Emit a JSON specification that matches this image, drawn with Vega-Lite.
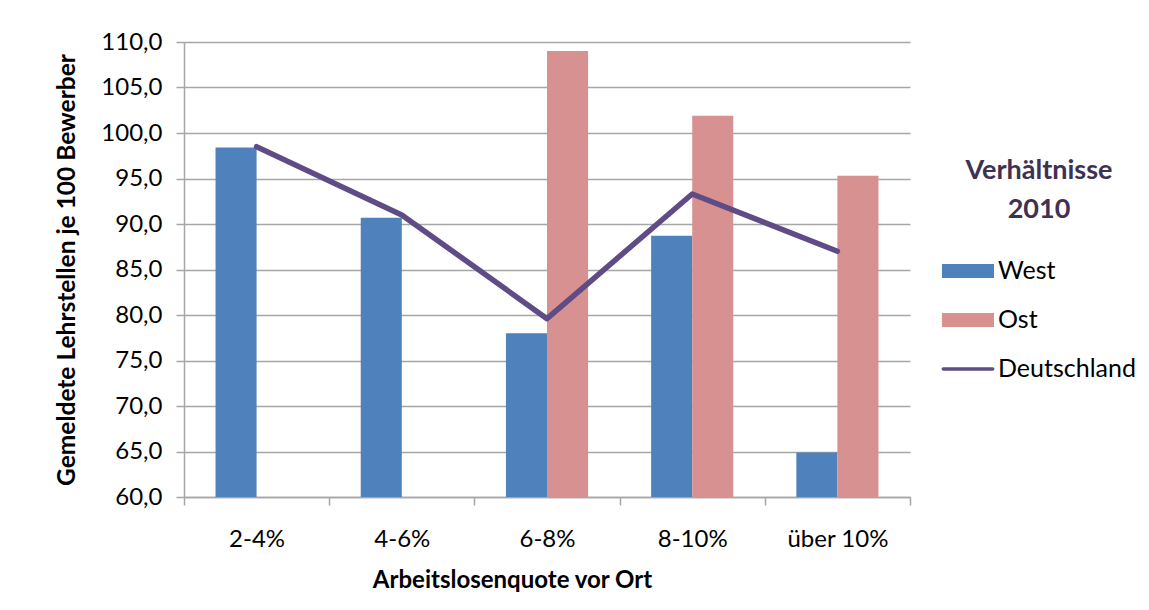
{
  "$schema": "https://vega.github.io/schema/vega-lite/v6.json",
  "width": 726,
  "height": 455,
  "autosize": {"type": "none"},
  "padding": {"left": 184, "top": 42, "right": 239, "bottom": 113},
  "background": "white",
  "config": {
    "locale": {"number": {"decimal": ",", "thousands": ".", "grouping": [3], "currency": ["", " €"]}},
    "font": "Lato",
    "view": {"stroke": null}
  },
  "data": {
    "values": [
      {"kat": "2-4%", "serie": "West", "wert": 98.4},
      {"kat": "4-6%", "serie": "West", "wert": 90.7},
      {"kat": "6-8%", "serie": "West", "wert": 78.0},
      {"kat": "8-10%", "serie": "West", "wert": 88.7},
      {"kat": "über 10%", "serie": "West", "wert": 64.9},
      {"kat": "6-8%", "serie": "Ost", "wert": 109.0},
      {"kat": "8-10%", "serie": "Ost", "wert": 101.9},
      {"kat": "über 10%", "serie": "Ost", "wert": 95.3},
      {"kat": "2-4%", "serie": "Deutschland", "wert": 98.5},
      {"kat": "4-6%", "serie": "Deutschland", "wert": 91.0},
      {"kat": "6-8%", "serie": "Deutschland", "wert": 79.6},
      {"kat": "8-10%", "serie": "Deutschland", "wert": 93.3},
      {"kat": "über 10%", "serie": "Deutschland", "wert": 87.0}
    ]
  },
  "encoding": {
    "x": {
      "field": "kat",
      "type": "nominal",
      "sort": ["2-4%", "4-6%", "6-8%", "8-10%", "über 10%"],
      "scale": {"paddingInner": 0, "paddingOuter": 0},
      "axis": {
        "title": "Arbeitslosenquote vor Ort",
        "labelAngle": 0,
        "tickBand": "extent",
        "tickSize": 8,
        "tickColor": "#A6A6A6",
        "tickWidth": 1.5,
        "domainColor": "#A6A6A6",
        "domainWidth": 1.5,
        "labelFontSize": 24,
        "labelColor": "black",
        "labelPadding": 22,
        "titleFontSize": 24,
        "titleFontWeight": "bold",
        "titleColor": "black",
        "titlePadding": 17,
        "titleX": 328
      }
    },
    "y": {
      "field": "wert",
      "type": "quantitative",
      "scale": {"domain": [60, 110], "zero": false, "nice": false},
      "axis": {
        "values": [60, 65, 70, 75, 80, 85, 90, 95, 100, 105, 110],
        "format": ".1f",
        "grid": true,
        "gridColor": "#A6A6A6",
        "gridWidth": 1.5,
        "domainColor": "#A6A6A6",
        "domainWidth": 1.5,
        "tickColor": "#A6A6A6",
        "tickSize": 8,
        "tickWidth": 1.5,
        "labelFontSize": 24,
        "labelColor": "black",
        "labelPadding": 14,
        "title": "Gemeldete Lehrstellen je 100 Bewerber",
        "titleFontSize": 24.5,
        "titleFontWeight": "bold",
        "titleColor": "black",
        "titlePadding": 21
      }
    }
  },
  "layer": [
    {
      "transform": [{"filter": "datum.serie !== 'Deutschland'"}],
      "mark": {"type": "bar", "clip": true},
      "encoding": {
        "xOffset": {
          "field": "serie",
          "type": "nominal",
          "scale": {"domain": ["West", "Ost"], "paddingInner": 0, "paddingOuter": 0.768}
        },
        "color": {
          "field": "serie",
          "type": "nominal",
          "scale": {"domain": ["West", "Ost", "Deutschland"], "range": ["#4F81BD", "#D79191", "#5F4B85"]},
          "legend": {
            "orient": "none",
            "legendX": 758,
            "legendY": 116,
            "title": ["Verhältnisse", "2010"],
            "titleFontSize": 27,
            "titleFontWeight": "bold",
            "titleColor": "#3F3151",
            "titleAlign": "center",
            "titleAnchor": "middle",
            "titleLineHeight": 39,
            "titlePadding": 21,
            "labelFontSize": 25,
            "labelColor": "black",
            "labelOffset": 4,
            "symbolSize": 2704,
            "symbolType": "M-1,-0.27H1V0.27H-1Z",
            "symbolStrokeWidth": 0,
            "rowPadding": 10,
            "encode": {
              "symbols": {
                "update": {
                  "shape": {"signal": "datum.value === 'Deutschland' ? 'M-0.95,-0.065H0.95A0.065,0.065 0 0 1 0.95,0.065H-0.95A0.065,0.065 0 0 1 -0.95,-0.065Z' : 'M-1,-0.27H1V0.27H-1Z'"},
                  "fill": {"scale": "color", "field": "value"},
                  "strokeWidth": {"value": 0}
                }
              }
            }
          }
        }
      }
    },
    {
      "transform": [{"filter": "datum.serie === 'Deutschland'"}],
      "mark": {"type": "line", "strokeWidth": 5.5, "strokeCap": "round", "strokeJoin": "round"},
      "encoding": {
        "color": {"field": "serie", "type": "nominal"}
      }
    }
  ]
}
